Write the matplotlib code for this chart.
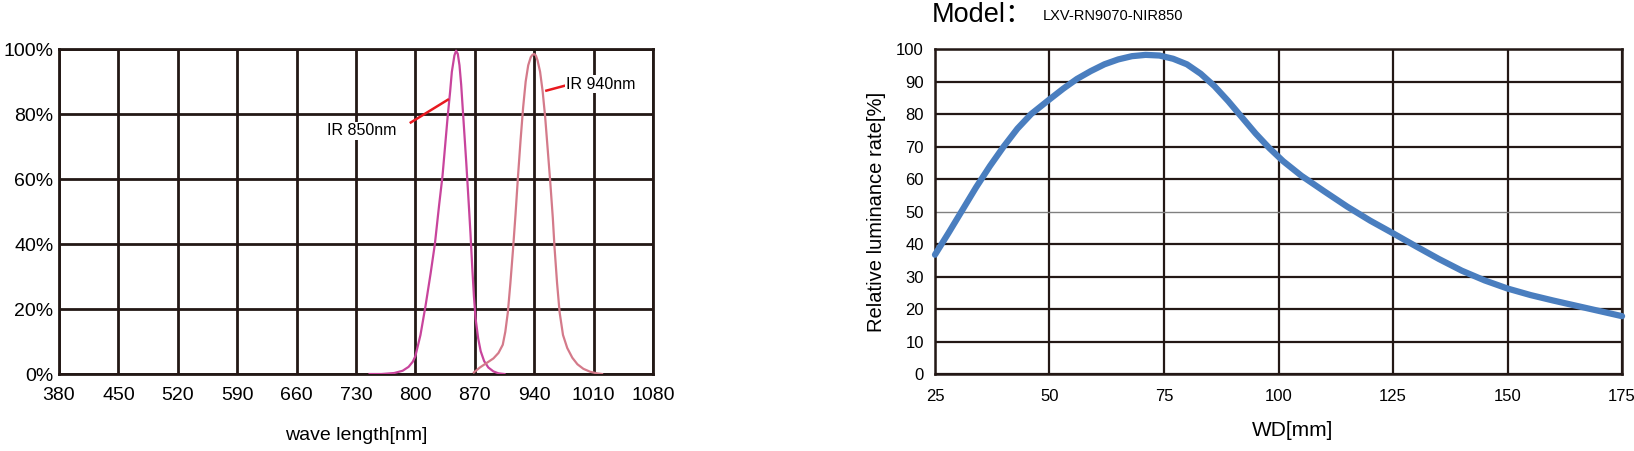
import matplotlib.pyplot as plt
from matplotlib.ticker import FixedLocator

# spectrum chart (left)
wl_ticks = [380, 450, 520, 590, 660, 730, 800, 870, 940, 1010, 1080]
pct_ticks = [0, 20, 40, 60, 80, 100]
pct_labels = ["0%", "20%", "40%", "60%", "80%", "100%"]

ir850_wl = [746, 760, 775, 785, 792, 797, 800, 806, 812, 818, 823, 828, 832, 835, 838, 841, 843, 846, 848,
            850, 852, 854, 856, 858, 860, 863, 865, 867, 869, 871, 874, 877, 881, 886, 892, 898, 905]
ir850_val = [0, 0, 0.3, 1.0, 2.2, 3.8, 5.5, 12, 21, 31, 40, 52, 61, 70, 79, 87, 93, 98, 99.5,
             98.5, 95, 89, 81, 73, 65, 52, 43, 33, 24, 17, 11, 7, 4, 2, 0.8, 0.2, 0]

ir940_wl = [869, 876, 884, 892, 898, 903, 906, 909, 912, 915, 918, 921, 924, 927, 930, 933, 936, 938, 940,
            942, 944, 947, 950, 953, 956, 959, 962, 964, 967, 970, 974, 979, 985, 991, 998, 1006, 1014, 1020]
ir940_val = [0.5, 2.0, 3.4, 4.8, 6.5, 9.0, 13, 19, 28, 38, 49, 61, 72, 82, 90, 95, 97.5, 98.2, 98.5,
             98, 96.5, 93, 87, 79, 69, 59, 48, 39, 28, 19, 12, 8, 5, 3, 1.6, 0.7, 0.2, 0]

# working distance chart (right)
wd_ticks = [25, 50, 75, 100, 125, 150, 175]
rate_ticks = [0, 10, 20, 30, 40, 50, 60, 70, 80, 90, 100]

wd = [25, 28, 31, 34, 37, 40, 43, 46, 50, 53, 56, 59, 62, 65, 68, 71, 74, 77, 80, 83, 86, 89, 92, 95,
      98, 101, 105, 110, 115, 120, 125, 130, 135, 140, 145, 150, 155, 160, 165, 170, 175]
rate = [36.7, 43.5, 50.5, 57.5, 64, 70, 75.5, 80, 84.5, 87.8, 90.8, 93.2, 95.3, 96.8, 97.8, 98.2, 98.0,
        97.0, 95.3, 92.4, 88.6, 84, 79, 74, 69.5, 65.5, 61, 56.2, 51.5, 47.2, 43.3, 39.3, 35.4, 31.8,
        28.8, 26.3, 24.3, 22.6, 21.0, 19.4, 17.8]

GRID = "#231815"
FONT = ["Liberation Sans", "Noto Sans CJK SC", "DejaVu Sans"]
plt.rcParams["font.family"] = FONT

fig = plt.figure(figsize=(16.34, 4.51), dpi=100)

# ---- left: spectrum
ax1 = fig.add_axes([0.0361, 0.1707, 0.3635, 0.7206])
ax1.set_xlim(380, 1080)
ax1.set_ylim(0, 100)
ax1.xaxis.set_major_locator(FixedLocator(wl_ticks))
ax1.yaxis.set_major_locator(FixedLocator(pct_ticks))
ax1.set_xticklabels([str(t) for t in wl_ticks], fontsize=14)
ax1.set_yticklabels(pct_labels, fontsize=14)
ax1.tick_params(length=0, pad=4)
ax1.tick_params(axis="x", pad=9)
ax1.grid(True, color=GRID, lw=2.0)
for s in ax1.spines.values():
    s.set_color(GRID)
    s.set_linewidth(2.0)

ax1.plot(ir850_wl, ir850_val, color="#C8449C", lw=1.6, zorder=3)
ax1.plot(ir940_wl, ir940_val, color="#D47A8A", lw=1.6, zorder=3)

ax1.plot([794.6, 838.3], [77.4, 84.4], color="#E8191F", lw=1.8, zorder=4)
ax1.plot([954.4, 978.8], [87.2, 88.9], color="#E8191F", lw=1.8, zorder=4)
ax1.text(737, 74.8, "IR 850nm", ha="center", va="center", fontsize=11.5,
         bbox=dict(facecolor="white", edgecolor="none", pad=1), zorder=5)
ax1.text(1019, 89.2, "IR 940nm", ha="center", va="center", fontsize=11.5,
         bbox=dict(facecolor="white", edgecolor="none", pad=1), zorder=5)
ax1.set_xlabel("wave length[nm]", fontsize=14, labelpad=17)

# ---- right: relative luminance
ax2 = fig.add_axes([0.5722, 0.1707, 0.4205, 0.7206])
ax2.set_xlim(25, 175)
ax2.set_ylim(0, 100)
ax2.xaxis.set_major_locator(FixedLocator(wd_ticks))
ax2.yaxis.set_major_locator(FixedLocator(rate_ticks))
ax2.set_xticklabels([str(t) for t in wd_ticks], fontsize=12)
ax2.set_yticklabels([str(t) for t in rate_ticks], fontsize=12)
ax2.tick_params(length=0, pad=8)
ax2.tick_params(axis="x", pad=11)
ax2.grid(True, color=GRID, lw=1.6)
ax2.get_ygridlines()[5].set_color("#808080")
ax2.get_ygridlines()[5].set_linewidth(1.0)
for s in ax2.spines.values():
    s.set_color(GRID)
    s.set_linewidth(1.8)

ax2.plot(wd, rate, color="#4A7EBF", lw=4.5, solid_capstyle="round", zorder=3, clip_on=False)
ax2.set_xlabel("WD[mm]", fontsize=15)
ax2.xaxis.set_label_coords(0.52, -0.145)
ax2.set_ylabel("Relative luminance rate[%]", fontsize=14.5, labelpad=7)

fig.text(0.570, 0.967, "Model：", fontsize=19.5, va="center", ha="left")
fig.text(0.638, 0.965, "LXV-RN9070-NIR850", fontsize=10.5, va="center", ha="left")

fig.savefig("out.png", dpi=100)
